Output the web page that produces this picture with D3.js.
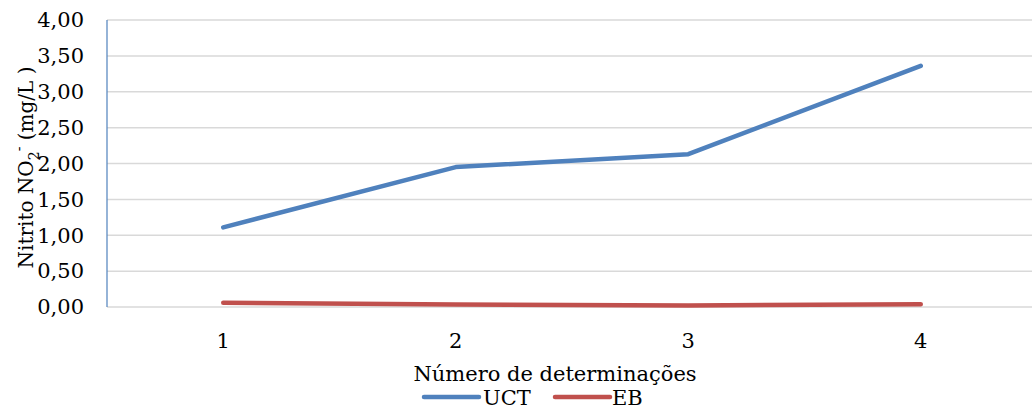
<!DOCTYPE html>
<html><head><meta charset="utf-8">
<script src="https://cdn.jsdelivr.net/npm/d3@7"></script>
<style>body{margin:0;background:#fff;}svg{display:block;}</style>
</head><body>
<svg id="c" width="1032" height="406" font-family="'DejaVu Serif', serif"></svg>
<script>
const categories = [1, 2, 3, 4];
const uct = [1.11, 1.95, 2.13, 3.36];
const eb = [0.06, 0.035, 0.02, 0.04];
const yTicks = [0, 0.5, 1, 1.5, 2, 2.5, 3, 3.5, 4];
const seriesNames = ["UCT", "EB"];
const colors = ["#4f81bd", "#c0504d"];

(function () {
const svg = d3.select("#c");
const pl = 107, pt = 20, pb = 307, pr = 1037;
const x = d3.scaleBand().domain(categories).range([pl, pr]);
const y = d3.scaleLinear().domain([0, 4]).range([pb, pt]);
const fmt = v => d3.format(".2f")(v).replace(".", ",");

// gridlines
svg.append("g").selectAll("line").data(yTicks).join("line")
  .attr("x1", pl).attr("x2", 1032)
  .attr("y1", d => y(d)).attr("y2", d => y(d))
  .attr("stroke", "#d9d9d9").attr("stroke-width", 1.5);

// y axis line
svg.append("line").attr("x1", pl).attr("x2", pl).attr("y1", y(4)).attr("y2", y(0))
  .attr("stroke", "#4f81bd").attr("stroke-width", 1.2);

// y tick labels
svg.append("g").selectAll("text").data(yTicks).join("text")
  .attr("x", 84).attr("y", d => y(d)).attr("dy", "0.35em")
  .attr("text-anchor", "end").attr("font-size", 21).attr("fill", "#000")
  .text(fmt);

// x tick labels
svg.append("g").selectAll("text").data(categories).join("text")
  .attr("x", d => x(d) + x.bandwidth() / 2).attr("y", 348)
  .attr("text-anchor", "middle").attr("font-size", 21).text(d => d);

// x title
svg.append("text").attr("x", 555).attr("y", 381).attr("text-anchor", "middle")
  .attr("font-size", 21).text("Número de determinações");

// y title
const yt = svg.append("text").attr("transform", "translate(33," + ((pt + pb) / 2 + 4) + ") rotate(-90)")
  .attr("text-anchor", "middle").attr("font-size", 20);
yt.append("tspan").text("Nitrito NO");
yt.append("tspan").attr("font-size", 14).attr("dy", 6).text("2");
yt.append("tspan").attr("font-size", 14).attr("dy", -15).text("-");
yt.append("tspan").attr("dy", 9).text(" (mg/L )");

// lines
const line = d3.line().x((d, i) => x(categories[i]) + x.bandwidth() / 2).y(d => y(d));
[uct, eb].forEach((s, i) => {
  svg.append("path").attr("d", line(s)).attr("fill", "none")
    .attr("stroke", colors[i]).attr("stroke-width", 4.5)
    .attr("stroke-linecap", "round").attr("stroke-linejoin", "round");
});

// legend
const leg = [{x: 424, tx: 483}, {x: 555, tx: 612}];
seriesNames.forEach((n, i) => {
  svg.append("line").attr("x1", leg[i].x).attr("x2", leg[i].x + 55).attr("y1", 397).attr("y2", 397)
    .attr("stroke", colors[i]).attr("stroke-width", 4.5).attr("stroke-linecap", "round");
  svg.append("text").attr("x", leg[i].tx).attr("y", 405).attr("font-size", 21).text(n);
});
})();
</script>
</body></html>
